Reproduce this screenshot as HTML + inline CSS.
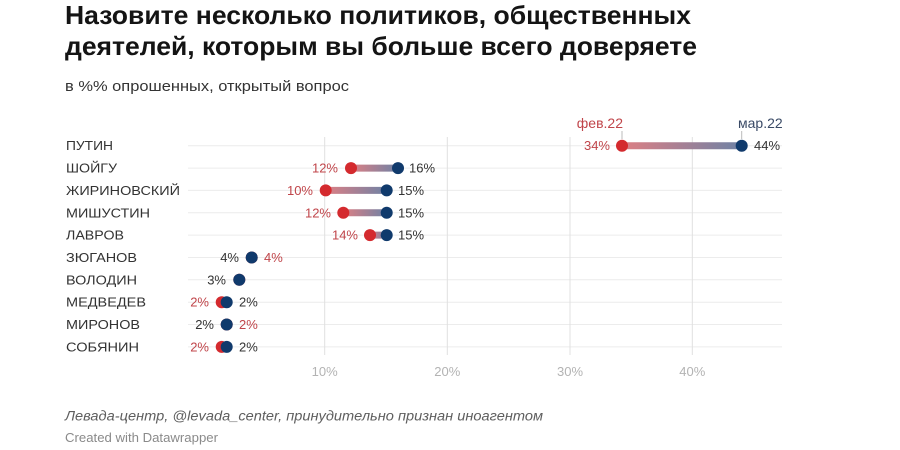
<!DOCTYPE html>
<html><head><meta charset="utf-8"><style>
html,body{margin:0;padding:0;background:#fff;}
svg{display:block;font-family:"Liberation Sans","Noto Sans CJK SC",sans-serif;}
</style></head><body>
<svg width="900" height="450" viewBox="0 0 900 450" xmlns="http://www.w3.org/2000/svg">
<defs>
<linearGradient id="g0" gradientUnits="userSpaceOnUse" x1="622" x2="741.7" y1="0" y2="0"><stop offset="0" stop-color="#dd7f84"/><stop offset="1" stop-color="#6f82a5"/></linearGradient>
<linearGradient id="g1" gradientUnits="userSpaceOnUse" x1="351" x2="398" y1="0" y2="0"><stop offset="0" stop-color="#dd7f84"/><stop offset="1" stop-color="#6f82a5"/></linearGradient>
<linearGradient id="g2" gradientUnits="userSpaceOnUse" x1="325.7" x2="386.7" y1="0" y2="0"><stop offset="0" stop-color="#dd7f84"/><stop offset="1" stop-color="#6f82a5"/></linearGradient>
<linearGradient id="g3" gradientUnits="userSpaceOnUse" x1="343.3" x2="386.7" y1="0" y2="0"><stop offset="0" stop-color="#dd7f84"/><stop offset="1" stop-color="#6f82a5"/></linearGradient>
<linearGradient id="g4" gradientUnits="userSpaceOnUse" x1="370" x2="386.7" y1="0" y2="0"><stop offset="0" stop-color="#dd7f84"/><stop offset="1" stop-color="#6f82a5"/></linearGradient>
</defs>
<rect width="900" height="450" fill="#fff"/>

<!-- title -->
<text x="65" y="24" font-size="26" font-weight="bold" fill="#141414" textLength="626" lengthAdjust="spacingAndGlyphs">Назовите несколько политиков, общественных</text>
<text x="65" y="55" font-size="26" font-weight="bold" fill="#141414" textLength="632" lengthAdjust="spacingAndGlyphs">деятелей, которым вы больше всего доверяете</text>
<text x="65" y="91" font-size="15" fill="#333" textLength="284" lengthAdjust="spacingAndGlyphs">в %% опрошенных, открытый вопрос</text>

<!-- row lines -->
<g stroke="#ececec" stroke-width="1">
<line x1="188" x2="782" y1="145.7" y2="145.7"/>
<line x1="188" x2="782" y1="168.1" y2="168.1"/>
<line x1="188" x2="782" y1="190.4" y2="190.4"/>
<line x1="188" x2="782" y1="212.8" y2="212.8"/>
<line x1="188" x2="782" y1="235.1" y2="235.1"/>
<line x1="188" x2="782" y1="257.5" y2="257.5"/>
<line x1="188" x2="782" y1="279.8" y2="279.8"/>
<line x1="188" x2="782" y1="302.2" y2="302.2"/>
<line x1="188" x2="782" y1="324.5" y2="324.5"/>
<line x1="188" x2="782" y1="346.9" y2="346.9"/>
</g>
<!-- vertical gridlines -->
<g stroke="#e0e0e0" stroke-width="1">
<line x1="324.7" x2="324.7" y1="137" y2="355"/>
<line x1="447.3" x2="447.3" y1="137" y2="355"/>
<line x1="570" x2="570" y1="137" y2="355"/>
<line x1="692.3" x2="692.3" y1="137" y2="355"/>
</g>
<g font-size="13" fill="#b3b3b3" text-anchor="middle">
<text x="324.7" y="376">10%</text>
<text x="447.3" y="376">20%</text>
<text x="570" y="376">30%</text>
<text x="692.3" y="376">40%</text>
</g>

<!-- row labels -->
<g font-size="13" fill="#333">
<text x="66" y="150.2" textLength="47" lengthAdjust="spacingAndGlyphs">ПУТИН</text>
<text x="66" y="172.6" textLength="51" lengthAdjust="spacingAndGlyphs">ШОЙГУ</text>
<text x="66" y="194.9" textLength="114" lengthAdjust="spacingAndGlyphs">ЖИРИНОВСКИЙ</text>
<text x="66" y="217.3" textLength="84" lengthAdjust="spacingAndGlyphs">МИШУСТИН</text>
<text x="66" y="239.6" textLength="58" lengthAdjust="spacingAndGlyphs">ЛАВРОВ</text>
<text x="66" y="262" textLength="71" lengthAdjust="spacingAndGlyphs">ЗЮГАНОВ</text>
<text x="66" y="284.3" textLength="71" lengthAdjust="spacingAndGlyphs">ВОЛОДИН</text>
<text x="66" y="306.7" textLength="80" lengthAdjust="spacingAndGlyphs">МЕДВЕДЕВ</text>
<text x="66" y="329" textLength="74" lengthAdjust="spacingAndGlyphs">МИРОНОВ</text>
<text x="66" y="351.4" textLength="73" lengthAdjust="spacingAndGlyphs">СОБЯНИН</text>
</g>

<!-- bars -->
<g stroke-width="7">
<line x1="622" x2="741.7" y1="145.7" y2="145.7" stroke="url(#g0)"/>
<line x1="351" x2="398" y1="168.1" y2="168.1" stroke="url(#g1)"/>
<line x1="325.7" x2="386.7" y1="190.4" y2="190.4" stroke="url(#g2)"/>
<line x1="343.3" x2="386.7" y1="212.8" y2="212.8" stroke="url(#g3)"/>
<line x1="370" x2="386.7" y1="235.1" y2="235.1" stroke="url(#g4)"/>
</g>

<!-- annotation -->
<g stroke="#bbb" stroke-width="1">
<line x1="622" x2="622" y1="131" y2="139"/>
<line x1="741.7" x2="741.7" y1="131" y2="139"/>
</g>
<text x="623" y="128" font-size="14" fill="#c0454a" text-anchor="end">фев.22</text>
<text x="738" y="128" font-size="14" fill="#3a4a66">мар.22</text>

<!-- red dots -->
<g fill="#d42a2e">
<circle cx="622" cy="145.7" r="6"/>
<circle cx="351" cy="168.1" r="6"/>
<circle cx="325.7" cy="190.4" r="6"/>
<circle cx="343.3" cy="212.8" r="6"/>
<circle cx="370" cy="235.1" r="6"/>
<circle cx="251.7" cy="257.5" r="6"/>
<circle cx="239.3" cy="279.8" r="6"/>
<circle cx="221.7" cy="302.2" r="6"/>
<circle cx="226.7" cy="324.5" r="6"/>
<circle cx="221.7" cy="346.9" r="6"/>
</g>
<!-- blue dots -->
<g fill="#103a6c">
<circle cx="741.7" cy="145.7" r="6"/>
<circle cx="398" cy="168.1" r="6"/>
<circle cx="386.7" cy="190.4" r="6"/>
<circle cx="386.7" cy="212.8" r="6"/>
<circle cx="386.7" cy="235.1" r="6"/>
<circle cx="251.7" cy="257.5" r="6"/>
<circle cx="239.3" cy="279.8" r="6"/>
<circle cx="226.7" cy="302.2" r="6"/>
<circle cx="226.7" cy="324.5" r="6"/>
<circle cx="226.7" cy="346.9" r="6"/>
</g>

<!-- value labels -->
<g font-size="13">
<text x="610" y="150.2" fill="#c0454a" text-anchor="end">34%</text>
<text x="754" y="150.2" fill="#333">44%</text>
<text x="338" y="172.6" fill="#c0454a" text-anchor="end">12%</text>
<text x="409" y="172.6" fill="#333">16%</text>
<text x="313" y="194.9" fill="#c0454a" text-anchor="end">10%</text>
<text x="398" y="194.9" fill="#333">15%</text>
<text x="331" y="217.3" fill="#c0454a" text-anchor="end">12%</text>
<text x="398" y="217.3" fill="#333">15%</text>
<text x="358" y="239.6" fill="#c0454a" text-anchor="end">14%</text>
<text x="398" y="239.6" fill="#333">15%</text>
<text x="239" y="262" fill="#333" text-anchor="end">4%</text>
<text x="264" y="262" fill="#c0454a">4%</text>
<text x="226" y="284.3" fill="#333" text-anchor="end">3%</text>
<text x="209" y="306.7" fill="#c0454a" text-anchor="end">2%</text>
<text x="239" y="306.7" fill="#333">2%</text>
<text x="214" y="329" fill="#333" text-anchor="end">2%</text>
<text x="239" y="329" fill="#c0454a">2%</text>
<text x="209" y="351.4" fill="#c0454a" text-anchor="end">2%</text>
<text x="239" y="351.4" fill="#333">2%</text>
</g>

<!-- footer -->
<text x="65" y="420.5" font-size="13.5" font-style="italic" fill="#5e5e5e" textLength="478" lengthAdjust="spacingAndGlyphs">Левада-центр, @levada_center, принудительно признан иноагентом</text>
<text x="65" y="442" font-size="12.5" fill="#8a8a8a" textLength="153" lengthAdjust="spacingAndGlyphs">Created with Datawrapper</text>
</svg>
</body></html>
